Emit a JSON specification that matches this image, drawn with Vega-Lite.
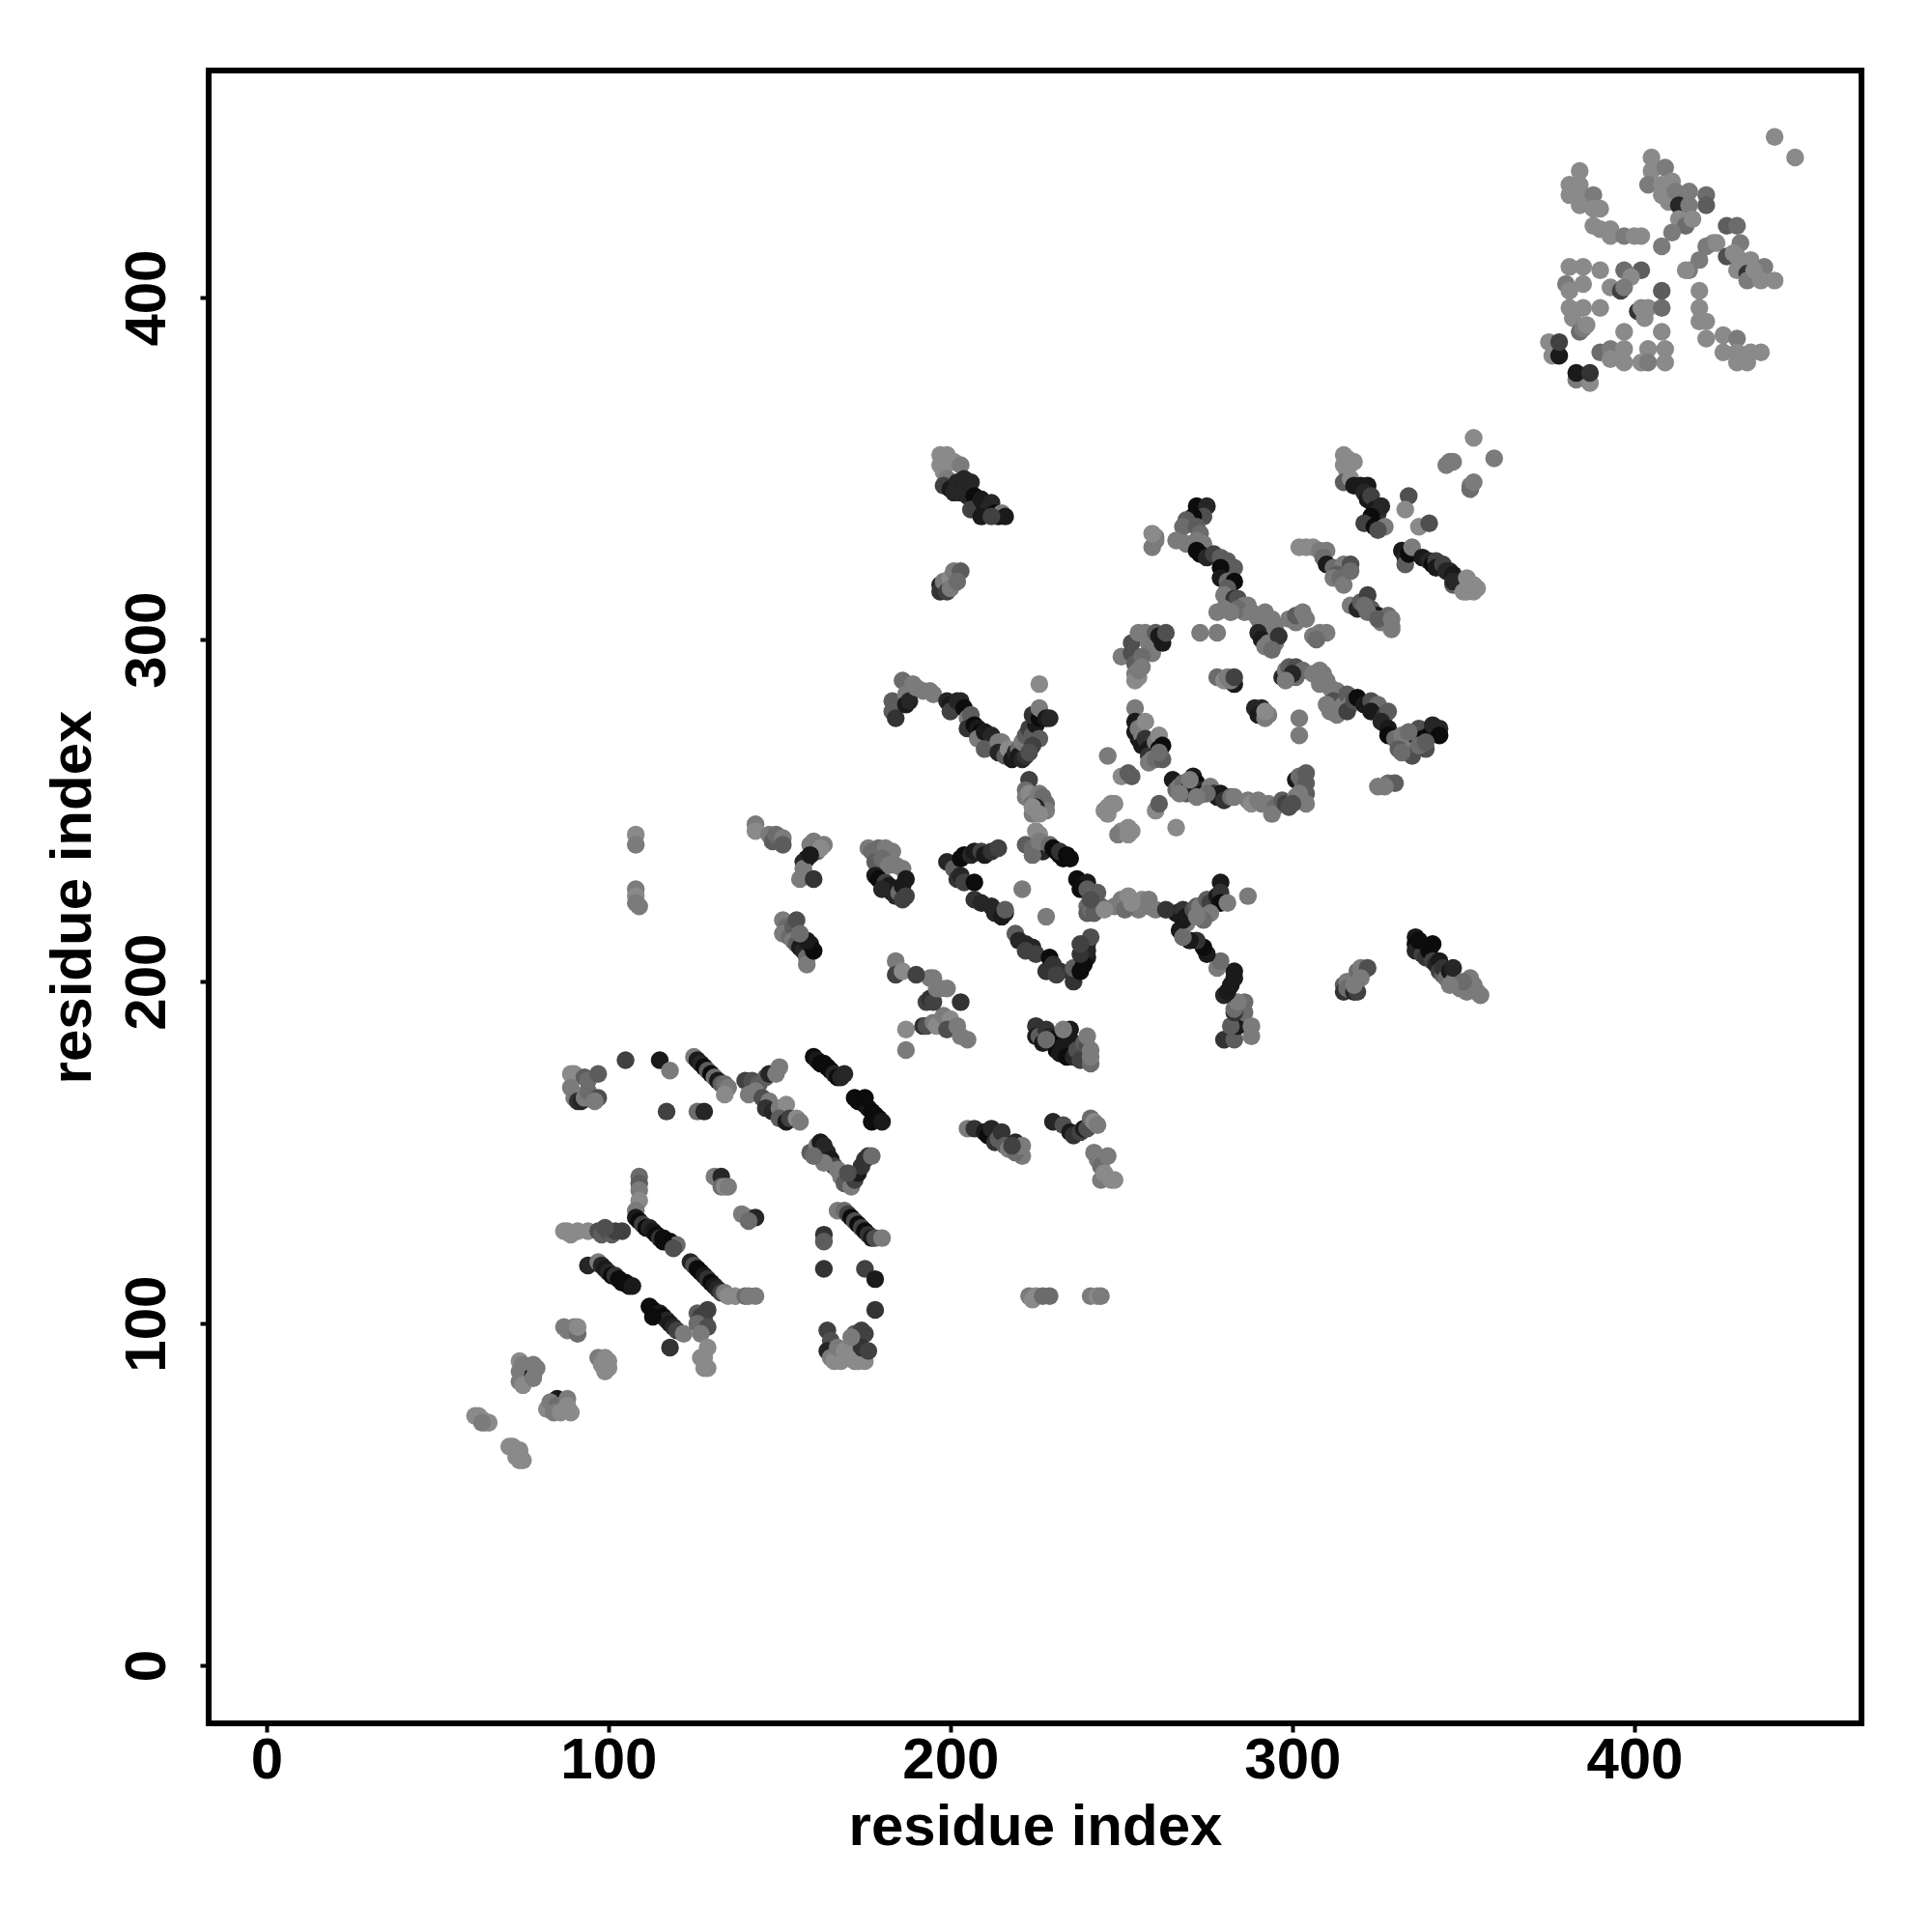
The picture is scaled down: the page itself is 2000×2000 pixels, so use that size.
{"$schema":"https://vega.github.io/schema/vega-lite/v6.json","width":1711,"height":1711,"autosize":"none","padding":{"left":216,"top":73,"right":73,"bottom":216},"background":"white","config":{"view":{"stroke":"#000000","strokeWidth":6,"fill":"white"},"font":"Liberation Sans"},
"data":{"values":[
{"x":61,"y":73,"s":0},{"x":62,"y":73,"s":0},{"x":63,"y":72,"s":0},{"x":64,"y":71,"s":0},{"x":65,"y":71,"s":0},{"x":63,"y":71,"s":1},
{"x":71,"y":64,"s":0},{"x":72,"y":64,"s":0},{"x":73,"y":63,"s":0},{"x":74,"y":63,"s":0},{"x":73,"y":61,"s":0},{"x":74,"y":60,"s":0},{"x":75,"y":60,"s":0},{"x":74,"y":62,"s":0},
{"x":74,"y":89,"s":0},{"x":75,"y":88,"s":1},{"x":74,"y":86,"s":1},{"x":75,"y":84,"s":1},{"x":74,"y":83,"s":1},{"x":78,"y":85,"s":8},{"x":78,"y":88,"s":1},{"x":79,"y":87,"s":1},{"x":75,"y":82,"s":0},{"x":78,"y":84,"s":1},
{"x":85,"y":78,"s":8},{"x":82,"y":75,"s":0},{"x":83,"y":77,"s":1},{"x":85,"y":76,"s":2},{"x":87,"y":75,"s":1},{"x":88,"y":78,"s":1},{"x":88,"y":76,"s":0},{"x":89,"y":74,"s":0},{"x":84,"y":74,"s":1},{"x":86,"y":74,"s":0},
{"x":87,"y":99,"s":1},{"x":88,"y":98,"s":1},{"x":90,"y":99,"s":1},{"x":91,"y":97,"s":2},{"x":91,"y":99,"s":0},
{"x":97,"y":90,"s":1},{"x":99,"y":90,"s":0},{"x":100,"y":87,"s":0},{"x":99,"y":86,"s":0},{"x":98,"y":88,"s":0},{"x":100,"y":89,"s":0},
{"x":87,"y":127,"s":0},{"x":88,"y":127,"s":0},{"x":89,"y":126,"s":0},{"x":91,"y":127,"s":0},{"x":94,"y":127,"s":0},{"x":97,"y":127,"s":4},{"x":98,"y":126,"s":3},{"x":100,"y":127,"s":5},{"x":101,"y":126,"s":3},{"x":102,"y":127,"s":5},{"x":104,"y":127,"s":5},{"x":99,"y":128,"s":4},
{"x":94,"y":117,"s":7},{"x":97,"y":118,"s":1},{"x":98,"y":117,"s":7},{"x":99,"y":116,"s":8},{"x":100,"y":115,"s":7},{"x":101,"y":114,"s":9},{"x":102,"y":114,"s":6},{"x":103,"y":113,"s":9},{"x":105,"y":112,"s":9},{"x":106,"y":111,"s":8},{"x":104,"y":112,"s":9},{"x":107,"y":111,"s":8},
{"x":109,"y":143,"s":2},{"x":109,"y":141,"s":3},{"x":109,"y":139,"s":1},{"x":109,"y":136,"s":0},{"x":108,"y":133,"s":1},{"x":108,"y":131,"s":8},{"x":109,"y":130,"s":9},{"x":110,"y":129,"s":5},{"x":111,"y":128,"s":9},{"x":112,"y":128,"s":7},{"x":113,"y":127,"s":8},{"x":114,"y":126,"s":9},{"x":115,"y":125,"s":6},{"x":116,"y":125,"s":9},{"x":117,"y":124,"s":8},{"x":118,"y":124,"s":9},{"x":119,"y":123,"s":9},{"x":120,"y":123,"s":2},{"x":116,"y":124,"s":9},{"x":119,"y":122,"s":4},
{"x":112,"y":105,"s":9},{"x":113,"y":104,"s":9},{"x":114,"y":103,"s":9},{"x":115,"y":103,"s":8},{"x":116,"y":102,"s":9},{"x":117,"y":101,"s":7},{"x":118,"y":100,"s":8},{"x":119,"y":99,"s":7},{"x":113,"y":102,"s":9},{"x":120,"y":98,"s":5},{"x":122,"y":97,"s":1},{"x":118,"y":93,"s":6},
{"x":124,"y":118,"s":7},{"x":125,"y":117,"s":4},{"x":126,"y":116,"s":9},{"x":127,"y":115,"s":9},{"x":128,"y":114,"s":8},{"x":129,"y":113,"s":6},{"x":130,"y":112,"s":9},{"x":131,"y":111,"s":8},{"x":132,"y":110,"s":7},{"x":133,"y":109,"s":5},{"x":134,"y":109,"s":1},{"x":135,"y":108,"s":0},{"x":137,"y":108,"s":0},{"x":140,"y":108,"s":2},{"x":141,"y":108,"s":1},{"x":143,"y":108,"s":1},
{"x":126,"y":103,"s":3},{"x":127,"y":102,"s":5},{"x":129,"y":104,"s":5},{"x":128,"y":101,"s":5},{"x":126,"y":100,"s":2},{"x":129,"y":99,"s":4},{"x":127,"y":97,"s":1},{"x":129,"y":93,"s":0},{"x":128,"y":90,"s":0},{"x":128,"y":87,"s":0},{"x":129,"y":87,"s":0},{"x":127,"y":90,"s":0},
{"x":131,"y":143,"s":1},{"x":133,"y":143,"s":7},{"x":133,"y":140,"s":2},{"x":134,"y":140,"s":0},{"x":135,"y":140,"s":1},{"x":139,"y":132,"s":1},{"x":141,"y":131,"s":1},{"x":143,"y":131,"s":7},{"x":141,"y":130,"s":2},
{"x":89,"y":173,"s":0},{"x":90,"y":173,"s":0},{"x":93,"y":172,"s":3},{"x":94,"y":171,"s":2},{"x":97,"y":173,"s":3},{"x":89,"y":169,"s":1},{"x":90,"y":166,"s":1},{"x":91,"y":165,"s":6},{"x":92,"y":165,"s":7},{"x":93,"y":166,"s":1},{"x":94,"y":168,"s":2},{"x":97,"y":166,"s":4},{"x":96,"y":165,"s":1},
{"x":105,"y":177,"s":5},{"x":115,"y":177,"s":8},{"x":118,"y":174,"s":1},{"x":117,"y":162,"s":5},{"x":126,"y":162,"s":2},{"x":128,"y":162,"s":7},
{"x":125,"y":178,"s":1},{"x":126,"y":177,"s":8},{"x":127,"y":176,"s":7},{"x":128,"y":175,"s":9},{"x":129,"y":174,"s":3},{"x":130,"y":173,"s":9},{"x":131,"y":172,"s":2},{"x":132,"y":171,"s":8},{"x":133,"y":170,"s":3},{"x":134,"y":170,"s":2},{"x":135,"y":169,"s":1},{"x":134,"y":167,"s":0},
{"x":140,"y":171,"s":5},{"x":142,"y":171,"s":4},{"x":144,"y":170,"s":3},{"x":146,"y":172,"s":3},{"x":147,"y":173,"s":7},{"x":149,"y":173,"s":1},{"x":150,"y":175,"s":1},{"x":141,"y":167,"s":1},{"x":143,"y":168,"s":1},{"x":145,"y":166,"s":4},{"x":147,"y":165,"s":1},{"x":146,"y":163,"s":6},{"x":148,"y":162,"s":7},{"x":150,"y":163,"s":1},{"x":152,"y":164,"s":0},{"x":150,"y":160,"s":3},{"x":152,"y":159,"s":8},{"x":153,"y":160,"s":5},{"x":155,"y":160,"s":0},{"x":156,"y":159,"s":1},
{"x":160,"y":178,"s":9},{"x":161,"y":177,"s":8},{"x":162,"y":176,"s":9},{"x":163,"y":176,"s":9},{"x":164,"y":175,"s":9},{"x":165,"y":174,"s":9},{"x":166,"y":173,"s":7},{"x":167,"y":172,"s":9},{"x":168,"y":172,"s":7},{"x":169,"y":173,"s":7},
{"x":172,"y":166,"s":9},{"x":173,"y":165,"s":9},{"x":174,"y":165,"s":9},{"x":175,"y":164,"s":9},{"x":176,"y":163,"s":8},{"x":177,"y":162,"s":9},{"x":178,"y":161,"s":9},{"x":179,"y":160,"s":9},{"x":175,"y":166,"s":9},{"x":177,"y":159,"s":9},{"x":180,"y":159,"s":8},
{"x":159,"y":150,"s":3},{"x":161,"y":152,"s":1},{"x":162,"y":153,"s":8},{"x":163,"y":152,"s":7},{"x":164,"y":150,"s":7},{"x":165,"y":148,"s":8},{"x":166,"y":146,"s":5},{"x":167,"y":145,"s":1},{"x":168,"y":143,"s":1},{"x":169,"y":141,"s":3},{"x":171,"y":140,"s":1},{"x":172,"y":142,"s":5},{"x":173,"y":144,"s":8},{"x":174,"y":146,"s":6},{"x":175,"y":148,"s":6},{"x":176,"y":149,"s":6},{"x":177,"y":149,"s":2},{"x":170,"y":144,"s":4},{"x":163,"y":147,"s":1},{"x":160,"y":149,"s":2},
{"x":167,"y":133,"s":1},{"x":169,"y":133,"s":2},{"x":170,"y":132,"s":5},{"x":171,"y":131,"s":9},{"x":172,"y":130,"s":4},{"x":173,"y":129,"s":9},{"x":174,"y":128,"s":5},{"x":175,"y":127,"s":9},{"x":176,"y":126,"s":6},{"x":177,"y":125,"s":8},{"x":178,"y":125,"s":4},{"x":180,"y":125,"s":1},
{"x":163,"y":126,"s":6},{"x":163,"y":124,"s":3},{"x":163,"y":116,"s":6},{"x":175,"y":116,"s":5},{"x":178,"y":113,"s":8},{"x":178,"y":104,"s":6},
{"x":164,"y":98,"s":5},{"x":165,"y":95,"s":4},{"x":164,"y":92,"s":7},{"x":165,"y":90,"s":1},{"x":166,"y":89,"s":0},{"x":168,"y":89,"s":0},{"x":167,"y":93,"s":1},{"x":169,"y":92,"s":0},{"x":171,"y":92,"s":0},{"x":172,"y":89,"s":0},{"x":173,"y":89,"s":0},{"x":175,"y":89,"s":0},{"x":172,"y":97,"s":3},{"x":174,"y":98,"s":5},{"x":175,"y":97,"s":5},{"x":174,"y":93,"s":6},{"x":176,"y":92,"s":5},{"x":170,"y":90,"s":0},{"x":171,"y":96,"s":1},
{"x":223,"y":108,"s":1},{"x":224,"y":107,"s":0},{"x":225,"y":108,"s":0},{"x":227,"y":108,"s":2},{"x":229,"y":108,"s":2},{"x":241,"y":108,"s":1},{"x":243,"y":108,"s":0},{"x":244,"y":108,"s":1},
{"x":205,"y":157,"s":1},{"x":207,"y":157,"s":6},{"x":210,"y":156,"s":8},{"x":211,"y":155,"s":9},{"x":212,"y":157,"s":7},{"x":213,"y":153,"s":6},{"x":214,"y":154,"s":3},{"x":215,"y":156,"s":6},{"x":216,"y":152,"s":3},{"x":217,"y":151,"s":1},{"x":219,"y":153,"s":7},{"x":220,"y":150,"s":1},{"x":221,"y":149,"s":1},{"x":219,"y":150,"s":2},{"x":221,"y":152,"s":1},{"x":218,"y":152,"s":5},
{"x":230,"y":159,"s":7},{"x":233,"y":158,"s":4},{"x":235,"y":156,"s":8},{"x":236,"y":155,"s":6},{"x":238,"y":156,"s":5},{"x":239,"y":157,"s":8},{"x":240,"y":157,"s":4},{"x":241,"y":160,"s":2},{"x":242,"y":159,"s":0},{"x":243,"y":158,"s":1},{"x":242,"y":150,"s":1},{"x":243,"y":148,"s":1},{"x":244,"y":146,"s":2},{"x":244,"y":142,"s":1},{"x":245,"y":144,"s":0},{"x":246,"y":149,"s":1},{"x":247,"y":142,"s":0},{"x":248,"y":142,"s":0},
{"x":187,"y":186,"s":0},{"x":187,"y":180,"s":1},{"x":192,"y":187,"s":6},{"x":193,"y":187,"s":4},{"x":195,"y":188,"s":1},{"x":196,"y":187,"s":0},{"x":198,"y":190,"s":1},{"x":200,"y":189,"s":0},{"x":199,"y":186,"s":4},{"x":202,"y":187,"s":1},{"x":203,"y":184,"s":1},{"x":205,"y":183,"s":1},{"x":193,"y":194,"s":5},{"x":194,"y":195,"s":6},{"x":195,"y":194,"s":5},{"x":196,"y":198,"s":1},{"x":197,"y":198,"s":1},{"x":199,"y":198,"s":1},{"x":195,"y":201,"s":1},{"x":194,"y":201,"s":1},{"x":184,"y":206,"s":1},{"x":184,"y":202,"s":5},{"x":186,"y":203,"s":0},{"x":190,"y":202,"s":5},{"x":203,"y":194,"s":6},
{"x":225,"y":187,"s":6},{"x":225,"y":184,"s":8},{"x":226,"y":184,"s":3},{"x":227,"y":182,"s":8},{"x":228,"y":186,"s":6},{"x":229,"y":184,"s":7},{"x":230,"y":183,"s":9},{"x":231,"y":180,"s":9},{"x":232,"y":179,"s":8},{"x":233,"y":181,"s":8},{"x":234,"y":178,"s":9},{"x":235,"y":183,"s":8},{"x":235,"y":186,"s":8},{"x":236,"y":178,"s":7},{"x":237,"y":180,"s":4},{"x":238,"y":177,"s":5},{"x":239,"y":182,"s":3},{"x":240,"y":181,"s":4},{"x":241,"y":176,"s":2},{"x":241,"y":178,"s":1},{"x":241,"y":180,"s":1},{"x":240,"y":184,"s":1},{"x":233,"y":186,"s":1},{"x":228,"y":183,"s":2},
{"x":280,"y":183,"s":6},{"x":283,"y":183,"s":3},{"x":284,"y":187,"s":8},{"x":282,"y":187,"s":3},{"x":286,"y":191,"s":2},{"x":286,"y":194,"s":2},{"x":288,"y":187,"s":1},{"x":288,"y":184,"s":1},{"x":283,"y":191,"s":6},{"x":283,"y":192,"s":2},{"x":284,"y":194,"s":1},{"x":280,"y":196,"s":7},{"x":281,"y":197,"s":8},{"x":282,"y":199,"s":8},{"x":283,"y":201,"s":8},{"x":283,"y":203,"s":8},{"x":278,"y":204,"s":1},{"x":279,"y":206,"s":2},{"x":275,"y":208,"s":8},{"x":274,"y":210,"s":9},{"x":272,"y":212,"s":6},{"x":270,"y":212,"s":8},{"x":267,"y":215,"s":8},{"x":269,"y":217,"s":1},{"x":268,"y":213,"s":2},
{"x":266,"y":220,"s":8},{"x":268,"y":221,"s":6},{"x":268,"y":218,"s":8},{"x":269,"y":219,"s":8},{"x":271,"y":221,"s":4},{"x":272,"y":222,"s":3},{"x":273,"y":222,"s":1},{"x":275,"y":224,"s":3},{"x":276,"y":223,"s":5},{"x":278,"y":225,"s":8},{"x":279,"y":229,"s":8},{"x":279,"y":226,"s":6},{"x":279,"y":223,"s":9},{"x":281,"y":223,"s":1},{"x":287,"y":225,"s":1},{"x":276,"y":220,"s":1},{"x":274,"y":218,"s":2},{"x":272,"y":219,"s":1},
{"x":248,"y":222,"s":1},{"x":250,"y":224,"s":1},{"x":252,"y":225,"s":0},{"x":255,"y":222,"s":0},{"x":256,"y":224,"s":0},{"x":258,"y":224,"s":1},{"x":255,"y":221,"s":1},{"x":258,"y":222,"s":1},{"x":260,"y":221,"s":1},{"x":263,"y":221,"s":6},{"x":251,"y":221,"s":2},{"x":253,"y":223,"s":0},
{"x":199,"y":235,"s":7},{"x":201,"y":233,"s":3},{"x":203,"y":236,"s":9},{"x":204,"y":237,"s":9},{"x":206,"y":237,"s":7},{"x":207,"y":238,"s":8},{"x":209,"y":238,"s":5},{"x":210,"y":237,"s":8},{"x":212,"y":238,"s":6},{"x":214,"y":239,"s":5},{"x":202,"y":230,"s":6},{"x":203,"y":231,"s":7},{"x":204,"y":229,"s":5},{"x":207,"y":229,"s":9},{"x":207,"y":224,"s":6},{"x":209,"y":223,"s":7},{"x":212,"y":222,"s":7},{"x":213,"y":220,"s":7},{"x":216,"y":220,"s":7},{"x":215,"y":219,"s":8},{"x":216,"y":221,"s":3},{"x":221,"y":227,"s":1},{"x":228,"y":219,"s":1},
{"x":219,"y":214,"s":3},{"x":220,"y":212,"s":7},{"x":222,"y":211,"s":7},{"x":224,"y":210,"s":7},{"x":222,"y":209,"s":5},{"x":225,"y":208,"s":5},{"x":229,"y":207,"s":9},{"x":230,"y":205,"s":6},{"x":228,"y":203,"s":6},{"x":232,"y":203,"s":6},{"x":231,"y":202,"s":5},{"x":236,"y":200,"s":6},{"x":236,"y":204,"s":3},{"x":238,"y":203,"s":9},{"x":240,"y":207,"s":8},{"x":240,"y":209,"s":7},{"x":240,"y":211,"s":7},{"x":241,"y":213,"s":4},{"x":239,"y":205,"s":9},{"x":238,"y":208,"s":6},{"x":238,"y":211,"s":5},
{"x":222,"y":240,"s":3},{"x":224,"y":239,"s":2},{"x":225,"y":244,"s":0},{"x":226,"y":243,"s":0},{"x":227,"y":238,"s":7},{"x":224,"y":237,"s":2},{"x":226,"y":241,"s":1},{"x":229,"y":240,"s":2},{"x":230,"y":239,"s":9},{"x":231,"y":238,"s":9},{"x":232,"y":237,"s":9},{"x":233,"y":236,"s":9},{"x":232,"y":238,"s":6},{"x":234,"y":237,"s":9},{"x":235,"y":236,"s":9},
{"x":237,"y":230,"s":9},{"x":238,"y":229,"s":9},{"x":239,"y":228,"s":9},{"x":240,"y":229,"s":8},{"x":238,"y":227,"s":9},{"x":240,"y":227,"s":3},{"x":241,"y":226,"s":3},{"x":242,"y":225,"s":2},{"x":243,"y":226,"s":3},{"x":240,"y":222,"s":2},{"x":240,"y":220,"s":3},{"x":241,"y":221,"s":2},{"x":242,"y":220,"s":3},{"x":244,"y":222,"s":3},{"x":245,"y":221,"s":0},{"x":241,"y":224,"s":4},
{"x":143,"y":246,"s":1},{"x":143,"y":244,"s":0},{"x":147,"y":243,"s":1},{"x":148,"y":241,"s":3},{"x":149,"y":243,"s":2},{"x":151,"y":242,"s":1},{"x":151,"y":240,"s":3},
{"x":159,"y":240,"s":1},{"x":158,"y":236,"s":8},{"x":160,"y":238,"s":6},{"x":160,"y":241,"s":1},{"x":163,"y":240,"s":1},{"x":161,"y":238,"s":2},{"x":162,"y":239,"s":0},{"x":157,"y":235,"s":7},{"x":157,"y":233,"s":1},{"x":159,"y":237,"s":8},{"x":156,"y":230,"s":1},{"x":160,"y":230,"s":6},
{"x":151,"y":218,"s":1},{"x":152,"y":216,"s":2},{"x":151,"y":214,"s":1},{"x":153,"y":213,"s":2},{"x":154,"y":216,"s":3},{"x":155,"y":218,"s":4},{"x":154,"y":212,"s":1},{"x":155,"y":211,"s":3},{"x":156,"y":210,"s":8},{"x":157,"y":209,"s":7},{"x":158,"y":207,"s":2},{"x":158,"y":205,"s":1},{"x":159,"y":211,"s":8},{"x":160,"y":209,"s":9},{"x":158,"y":212,"s":8},{"x":156,"y":214,"s":2},
{"x":176,"y":239,"s":1},{"x":177,"y":238,"s":2},{"x":179,"y":239,"s":2},{"x":181,"y":239,"s":1},{"x":183,"y":238,"s":1},{"x":178,"y":235,"s":3},{"x":180,"y":236,"s":2},{"x":182,"y":234,"s":1},{"x":184,"y":234,"s":1},{"x":186,"y":233,"s":1},{"x":178,"y":231,"s":8},{"x":179,"y":230,"s":9},{"x":181,"y":229,"s":5},{"x":182,"y":228,"s":8},{"x":183,"y":226,"s":8},{"x":184,"y":225,"s":7},{"x":185,"y":226,"s":2},{"x":186,"y":228,"s":8},{"x":187,"y":230,"s":8},{"x":186,"y":224,"s":5},{"x":180,"y":227,"s":7},{"x":187,"y":225,"s":5},
{"x":108,"y":243,"s":0},{"x":108,"y":240,"s":1},{"x":108,"y":227,"s":1},{"x":108,"y":225,"s":0},{"x":108,"y":223,"s":1},{"x":109,"y":222,"s":1},
{"x":183,"y":282,"s":3},{"x":183,"y":279,"s":3},{"x":184,"y":277,"s":6},{"x":186,"y":288,"s":2},{"x":187,"y":284,"s":1},{"x":187,"y":281,"s":8},{"x":188,"y":282,"s":7},{"x":189,"y":287,"s":1},{"x":190,"y":286,"s":1},{"x":192,"y":285,"s":1},{"x":194,"y":285,"s":1},{"x":195,"y":284,"s":1},{"x":199,"y":282,"s":7},{"x":200,"y":281,"s":8},{"x":200,"y":279,"s":5},{"x":202,"y":282,"s":7},{"x":203,"y":282,"s":7},{"x":204,"y":280,"s":9},{"x":205,"y":277,"s":1},{"x":206,"y":278,"s":3},{"x":205,"y":274,"s":6},{"x":207,"y":275,"s":9},{"x":208,"y":274,"s":8},{"x":209,"y":273,"s":9},{"x":208,"y":271,"s":1},{"x":210,"y":273,"s":8},{"x":212,"y":272,"s":7},{"x":210,"y":268,"s":3},{"x":214,"y":270,"s":1},{"x":215,"y":270,"s":1},{"x":214,"y":267,"s":7},{"x":216,"y":266,"s":3},{"x":217,"y":268,"s":0},{"x":218,"y":265,"s":8},{"x":219,"y":267,"s":7},{"x":220,"y":268,"s":2},{"x":220,"y":266,"s":8},{"x":221,"y":265,"s":7},{"x":222,"y":266,"s":6},{"x":221,"y":270,"s":1},{"x":222,"y":272,"s":3},{"x":223,"y":274,"s":5},{"x":224,"y":272,"s":3},{"x":225,"y":275,"s":8},{"x":226,"y":271,"s":3},{"x":224,"y":269,"s":5},{"x":223,"y":267,"s":4},{"x":224,"y":278,"s":6},{"x":226,"y":277,"s":9},{"x":226,"y":280,"s":1},{"x":228,"y":277,"s":8},{"x":229,"y":277,"s":7},{"x":226,"y":287,"s":0},
{"x":223,"y":259,"s":5},{"x":222,"y":256,"s":2},{"x":222,"y":254,"s":1},{"x":223,"y":255,"s":0},{"x":224,"y":252,"s":2},{"x":225,"y":253,"s":1},{"x":226,"y":255,"s":1},{"x":227,"y":254,"s":2},{"x":228,"y":252,"s":2},{"x":228,"y":250,"s":1},{"x":224,"y":249,"s":1},{"x":225,"y":251,"s":7},{"x":226,"y":249,"s":0},{"x":224,"y":251,"s":0},
{"x":246,"y":251,"s":0},{"x":246,"y":249,"s":0},{"x":247,"y":252,"s":0},{"x":245,"y":250,"s":0},{"x":248,"y":252,"s":0},{"x":250,"y":244,"s":0},{"x":249,"y":243,"s":1},{"x":252,"y":243,"s":0},{"x":252,"y":245,"s":0},{"x":253,"y":244,"s":0},{"x":246,"y":266,"s":1},{"x":250,"y":260,"s":0},{"x":253,"y":260,"s":3},{"x":252,"y":261,"s":3},{"x":260,"y":250,"s":0},{"x":261,"y":252,"s":3},{"x":266,"y":245,"s":0},
{"x":254,"y":280,"s":1},{"x":254,"y":276,"s":8},{"x":254,"y":273,"s":8},{"x":255,"y":271,"s":8},{"x":256,"y":272,"s":1},{"x":256,"y":269,"s":8},{"x":255,"y":274,"s":1},{"x":257,"y":276,"s":0},{"x":257,"y":271,"s":6},{"x":258,"y":268,"s":8},{"x":258,"y":266,"s":6},{"x":260,"y":270,"s":1},{"x":261,"y":272,"s":0},{"x":261,"y":268,"s":9},{"x":261,"y":266,"s":9},{"x":259,"y":265,"s":1},{"x":258,"y":264,"s":1},{"x":260,"y":265,"s":2},{"x":262,"y":269,"s":9},{"x":262,"y":265,"s":3},{"x":261,"y":267,"s":2},
{"x":265,"y":259,"s":8},{"x":266,"y":256,"s":2},{"x":267,"y":257,"s":1},{"x":268,"y":258,"s":2},{"x":269,"y":255,"s":3},{"x":270,"y":257,"s":8},{"x":271,"y":260,"s":8},{"x":272,"y":258,"s":9},{"x":273,"y":256,"s":7},{"x":274,"y":255,"s":9},{"x":276,"y":257,"s":1},{"x":277,"y":255,"s":6},{"x":278,"y":254,"s":8},{"x":279,"y":255,"s":8},{"x":280,"y":253,"s":6},{"x":282,"y":254,"s":2},{"x":283,"y":254,"s":1},{"x":270,"y":259,"s":1},{"x":275,"y":255,"s":2},{"x":267,"y":255,"s":1},{"x":272,"y":254,"s":1},
{"x":287,"y":253,"s":1},{"x":288,"y":252,"s":0},{"x":290,"y":253,"s":1},{"x":291,"y":252,"s":1},{"x":293,"y":252,"s":1},{"x":295,"y":251,"s":2},{"x":294,"y":249,"s":1},{"x":297,"y":253,"s":3},{"x":298,"y":252,"s":5},{"x":299,"y":251,"s":4},{"x":301,"y":254,"s":1},{"x":301,"y":259,"s":8},{"x":302,"y":260,"s":2},{"x":303,"y":258,"s":2},{"x":304,"y":261,"s":3},{"x":304,"y":258,"s":3},{"x":304,"y":255,"s":3},{"x":304,"y":252,"s":1},{"x":302,"y":255,"s":1},{"x":300,"y":252,"s":4},
{"x":250,"y":295,"s":1},{"x":253,"y":299,"s":4},{"x":253,"y":296,"s":4},{"x":254,"y":293,"s":3},{"x":254,"y":290,"s":1},{"x":255,"y":302,"s":1},{"x":257,"y":302,"s":1},{"x":258,"y":299,"s":1},{"x":259,"y":296,"s":1},{"x":260,"y":302,"s":3},{"x":261,"y":301,"s":8},{"x":262,"y":299,"s":8},{"x":263,"y":302,"s":4},{"x":256,"y":295,"s":2},{"x":254,"y":288,"s":0},{"x":255,"y":289,"s":0},{"x":255,"y":291,"s":1},{"x":256,"y":292,"s":1},
{"x":273,"y":302,"s":1},{"x":278,"y":302,"s":1},{"x":278,"y":289,"s":2},{"x":280,"y":288,"s":0},{"x":281,"y":289,"s":1},{"x":283,"y":287,"s":8},{"x":282,"y":288,"s":1},{"x":283,"y":289,"s":5},{"x":289,"y":280,"s":7},{"x":291,"y":280,"s":7},{"x":290,"y":278,"s":8},{"x":292,"y":277,"s":1},{"x":293,"y":278,"s":1},{"x":292,"y":279,"s":0},{"x":302,"y":277,"s":1},{"x":302,"y":272,"s":1},
{"x":272,"y":339,"s":9},{"x":275,"y":339,"s":7},{"x":274,"y":336,"s":4},{"x":271,"y":336,"s":9},{"x":269,"y":335,"s":3},{"x":268,"y":333,"s":2},{"x":272,"y":333,"s":3},{"x":273,"y":331,"s":2},{"x":266,"y":329,"s":1},{"x":269,"y":328,"s":1},{"x":272,"y":329,"s":1},{"x":274,"y":328,"s":1},{"x":272,"y":326,"s":9},{"x":273,"y":325,"s":9},{"x":275,"y":324,"s":7},{"x":277,"y":325,"s":5},{"x":279,"y":324,"s":3},{"x":281,"y":323,"s":3},{"x":283,"y":321,"s":3},{"x":279,"y":321,"s":9},{"x":279,"y":318,"s":8},{"x":281,"y":317,"s":2},{"x":283,"y":317,"s":9},{"x":281,"y":315,"s":3},{"x":280,"y":313,"s":1},{"x":283,"y":312,"s":6},{"x":284,"y":312,"s":4},{"x":286,"y":310,"s":1},{"x":286,"y":308,"s":1},{"x":287,"y":310,"s":1},{"x":284,"y":309,"s":2},{"x":282,"y":308,"s":1},{"x":278,"y":308,"s":1},{"x":280,"y":309,"s":1},{"x":288,"y":308,"s":1},{"x":290,"y":306,"s":1},{"x":292,"y":308,"s":1},{"x":294,"y":306,"s":1},{"x":293,"y":305,"s":1},{"x":295,"y":304,"s":1},{"x":293,"y":303,"s":1},{"x":290,"y":302,"s":7},{"x":291,"y":300,"s":8},{"x":293,"y":299,"s":1},{"x":295,"y":299,"s":1},{"x":296,"y":301,"s":6},{"x":292,"y":298,"s":1},{"x":294,"y":297,"s":2},{"x":260,"y":329,"s":1},{"x":259,"y":327,"s":1},{"x":260,"y":330,"s":1},{"x":259,"y":331,"s":0},
{"x":302,"y":327,"s":0},{"x":304,"y":327,"s":0},{"x":306,"y":327,"s":0},{"x":308,"y":326,"s":1},{"x":310,"y":326,"s":1},{"x":309,"y":324,"s":2},{"x":310,"y":322,"s":8},{"x":312,"y":321,"s":2},{"x":314,"y":320,"s":1},{"x":315,"y":322,"s":1},{"x":317,"y":322,"s":4},{"x":313,"y":319,"s":3},{"x":312,"y":318,"s":1},{"x":314,"y":318,"s":2},{"x":315,"y":316,"s":1},{"x":317,"y":320,"s":2},
{"x":299,"y":306,"s":1},{"x":301,"y":305,"s":1},{"x":301,"y":307,"s":3},{"x":303,"y":308,"s":1},{"x":304,"y":306,"s":1},{"x":306,"y":301,"s":1},{"x":308,"y":302,"s":1},{"x":310,"y":302,"s":1},{"x":307,"y":300,"s":2},
{"x":297,"y":289,"s":7},{"x":298,"y":291,"s":1},{"x":299,"y":292,"s":3},{"x":301,"y":292,"s":4},{"x":303,"y":291,"s":2},{"x":301,"y":289,"s":2},{"x":300,"y":290,"s":7},{"x":298,"y":288,"s":1},{"x":306,"y":290,"s":1},{"x":308,"y":291,"s":1},{"x":309,"y":290,"s":1},{"x":310,"y":288,"s":1},{"x":308,"y":287,"s":1},{"x":311,"y":286,"s":1},{"x":312,"y":284,"s":1},{"x":313,"y":285,"s":1},{"x":312,"y":282,"s":4},{"x":311,"y":279,"s":1},{"x":310,"y":281,"s":1},{"x":313,"y":278,"s":1},{"x":315,"y":281,"s":1},{"x":316,"y":284,"s":3},{"x":317,"y":281,"s":1},{"x":316,"y":279,"s":5},{"x":318,"y":282,"s":4},{"x":319,"y":283,"s":9},{"x":321,"y":281,"s":8},{"x":323,"y":282,"s":4},{"x":325,"y":281,"s":2},{"x":323,"y":279,"s":8},{"x":327,"y":278,"s":6},{"x":328,"y":279,"s":3},{"x":326,"y":276,"s":7},{"x":328,"y":274,"s":8},{"x":328,"y":272,"s":9},{"x":330,"y":271,"s":2},{"x":332,"y":272,"s":1},{"x":333,"y":270,"s":1},{"x":331,"y":268,"s":3},{"x":335,"y":268,"s":1},{"x":336,"y":272,"s":8},{"x":337,"y":274,"s":4},{"x":338,"y":271,"s":9},{"x":339,"y":268,"s":4},{"x":340,"y":272,"s":9},{"x":341,"y":275,"s":7},{"x":343,"y":274,"s":7},{"x":343,"y":272,"s":9},{"x":334,"y":273,"s":2},{"x":335,"y":266,"s":4},{"x":332,"y":267,"s":2},{"x":337,"y":269,"s":2},{"x":339,"y":270,"s":3},
{"x":325,"y":257,"s":1},{"x":328,"y":258,"s":2},{"x":330,"y":258,"s":3},{"x":327,"y":257,"s":1},
{"x":317,"y":310,"s":1},{"x":319,"y":309,"s":7},{"x":320,"y":311,"s":3},{"x":322,"y":313,"s":5},{"x":323,"y":309,"s":3},{"x":325,"y":307,"s":8},{"x":327,"y":306,"s":1},{"x":328,"y":305,"s":8},{"x":329,"y":304,"s":1},{"x":328,"y":307,"s":2},{"x":326,"y":305,"s":1},{"x":322,"y":308,"s":2},{"x":321,"y":310,"s":2},{"x":325,"y":306,"s":3},{"x":329,"y":306,"s":1},{"x":329,"y":303,"s":1},
{"x":315,"y":354,"s":0},{"x":316,"y":353,"s":0},{"x":318,"y":352,"s":0},{"x":315,"y":351,"s":0},{"x":316,"y":349,"s":0},{"x":315,"y":346,"s":3},{"x":317,"y":347,"s":0},{"x":318,"y":345,"s":8},{"x":320,"y":345,"s":8},{"x":322,"y":345,"s":8},{"x":321,"y":343,"s":7},{"x":322,"y":341,"s":8},{"x":323,"y":342,"s":5},{"x":324,"y":338,"s":8},{"x":325,"y":337,"s":6},{"x":326,"y":339,"s":7},{"x":323,"y":336,"s":9},{"x":321,"y":334,"s":5},{"x":324,"y":333,"s":9},{"x":326,"y":333,"s":9},{"x":327,"y":333,"s":1},{"x":325,"y":332,"s":4},
{"x":334,"y":342,"s":4},{"x":333,"y":338,"s":0},{"x":337,"y":333,"s":0},{"x":340,"y":334,"s":4},
{"x":332,"y":326,"s":8},{"x":333,"y":324,"s":7},{"x":333,"y":322,"s":3},{"x":334,"y":325,"s":9},{"x":335,"y":327,"s":1},{"x":338,"y":324,"s":8},{"x":340,"y":323,"s":7},{"x":341,"y":322,"s":9},{"x":342,"y":323,"s":5},{"x":342,"y":321,"s":8},{"x":344,"y":322,"s":5},{"x":345,"y":320,"s":7},{"x":346,"y":320,"s":7},{"x":347,"y":319,"s":8},{"x":347,"y":316,"s":3},{"x":349,"y":316,"s":0},{"x":347,"y":317,"s":7},{"x":350,"y":314,"s":0},{"x":351,"y":314,"s":0},{"x":353,"y":314,"s":0},{"x":353,"y":316,"s":0},{"x":351,"y":318,"s":0},{"x":354,"y":315,"s":0},
{"x":345,"y":351,"s":1},{"x":346,"y":352,"s":1},{"x":347,"y":352,"s":1},{"x":352,"y":345,"s":1},{"x":352,"y":344,"s":2},{"x":353,"y":346,"s":1},{"x":353,"y":359,"s":0},{"x":359,"y":353,"s":1},
{"x":197,"y":354,"s":0},{"x":199,"y":354,"s":0},{"x":198,"y":352,"s":0},{"x":201,"y":352,"s":0},{"x":197,"y":351,"s":0},{"x":198,"y":349,"s":0},{"x":203,"y":351,"s":1},{"x":199,"y":347,"s":1},{"x":198,"y":345,"s":5},{"x":200,"y":344,"s":8},{"x":202,"y":346,"s":7},{"x":203,"y":343,"s":8},{"x":204,"y":345,"s":8},{"x":204,"y":347,"s":7},{"x":206,"y":346,"s":7},{"x":205,"y":342,"s":7},{"x":207,"y":342,"s":9},{"x":208,"y":340,"s":9},{"x":206,"y":338,"s":5},{"x":209,"y":341,"s":8},{"x":210,"y":339,"s":8},{"x":211,"y":338,"s":7},{"x":212,"y":340,"s":7},{"x":213,"y":337,"s":9},{"x":214,"y":336,"s":9},{"x":215,"y":337,"s":1},{"x":216,"y":336,"s":8},{"x":209,"y":336,"s":8},{"x":212,"y":336,"s":5},{"x":201,"y":343,"s":7},
{"x":197,"y":316,"s":7},{"x":197,"y":314,"s":6},{"x":198,"y":317,"s":1},{"x":200,"y":318,"s":0},{"x":199,"y":314,"s":5},{"x":201,"y":320,"s":1},{"x":203,"y":320,"s":3},{"x":200,"y":315,"s":1},{"x":202,"y":317,"s":2},
{"x":315,"y":199,"s":3},{"x":315,"y":197,"s":6},{"x":316,"y":200,"s":1},{"x":316,"y":198,"s":2},{"x":318,"y":197,"s":7},{"x":319,"y":197,"s":5},{"x":319,"y":203,"s":2},{"x":320,"y":204,"s":1},{"x":322,"y":204,"s":4},{"x":320,"y":201,"s":1},{"x":318,"y":199,"s":1},
{"x":336,"y":213,"s":8},{"x":336,"y":211,"s":9},{"x":336,"y":209,"s":7},{"x":338,"y":210,"s":8},{"x":338,"y":208,"s":5},{"x":339,"y":207,"s":6},{"x":340,"y":209,"s":9},{"x":341,"y":211,"s":9},{"x":341,"y":206,"s":5},{"x":342,"y":205,"s":7},{"x":343,"y":206,"s":8},{"x":343,"y":203,"s":5},{"x":344,"y":202,"s":3},{"x":344,"y":204,"s":6},{"x":345,"y":201,"s":2},{"x":346,"y":203,"s":8},{"x":347,"y":200,"s":2},{"x":347,"y":204,"s":7},{"x":348,"y":199,"s":2},{"x":349,"y":198,"s":1},{"x":350,"y":198,"s":1},{"x":351,"y":197,"s":1},{"x":352,"y":198,"s":1},{"x":352,"y":201,"s":1},{"x":353,"y":199,"s":1},{"x":354,"y":197,"s":1},{"x":355,"y":196,"s":1},{"x":350,"y":200,"s":2},{"x":346,"y":199,"s":1},{"x":337,"y":212,"s":9},
{"x":441,"y":447,"s":0},{"x":447,"y":441,"s":0},
{"x":384,"y":437,"s":0},{"x":381,"y":433,"s":0},{"x":384,"y":433,"s":0},{"x":381,"y":430,"s":0},{"x":384,"y":430,"s":0},{"x":388,"y":430,"s":1},{"x":384,"y":427,"s":0},{"x":388,"y":426,"s":0},{"x":390,"y":426,"s":0},{"x":388,"y":421,"s":0},{"x":390,"y":420,"s":0},{"x":393,"y":420,"s":0},{"x":393,"y":418,"s":0},{"x":397,"y":418,"s":1},{"x":400,"y":418,"s":0},{"x":402,"y":418,"s":0},
{"x":405,"y":441,"s":0},{"x":405,"y":437,"s":0},{"x":404,"y":433,"s":1},{"x":409,"y":438,"s":1},{"x":408,"y":433,"s":0},{"x":411,"y":434,"s":0},{"x":408,"y":430,"s":0},{"x":410,"y":428,"s":0},{"x":412,"y":431,"s":1},{"x":413,"y":427,"s":7},{"x":416,"y":431,"s":1},{"x":421,"y":430,"s":2},{"x":421,"y":427,"s":3},{"x":416,"y":427,"s":1},{"x":413,"y":423,"s":0},{"x":415,"y":421,"s":2},{"x":417,"y":423,"s":0},{"x":411,"y":419,"s":1},{"x":408,"y":415,"s":1},
{"x":427,"y":421,"s":3},{"x":430,"y":421,"s":2},{"x":423,"y":416,"s":0},{"x":421,"y":415,"s":1},{"x":424,"y":416,"s":0},{"x":431,"y":416,"s":1},{"x":427,"y":412,"s":4},{"x":429,"y":413,"s":0},{"x":430,"y":412,"s":0},{"x":434,"y":411,"s":0},{"x":438,"y":409,"s":1},{"x":430,"y":408,"s":0},{"x":433,"y":407,"s":6},{"x":433,"y":405,"s":1},{"x":435,"y":408,"s":0},{"x":437,"y":405,"s":0},{"x":441,"y":405,"s":0},{"x":419,"y":411,"s":1},{"x":416,"y":408,"s":1},{"x":415,"y":408,"s":0},
{"x":419,"y":402,"s":0},{"x":419,"y":397,"s":0},{"x":419,"y":393,"s":0},{"x":421,"y":393,"s":0},{"x":421,"y":388,"s":0},{"x":426,"y":389,"s":0},{"x":430,"y":388,"s":1},{"x":426,"y":384,"s":0},{"x":430,"y":384,"s":0},{"x":434,"y":384,"s":0},{"x":437,"y":384,"s":0},{"x":430,"y":381,"s":0},{"x":433,"y":381,"s":0},
{"x":381,"y":409,"s":0},{"x":385,"y":409,"s":0},{"x":390,"y":408,"s":0},{"x":380,"y":404,"s":1},{"x":385,"y":404,"s":0},{"x":381,"y":402,"s":0},{"x":381,"y":397,"s":0},{"x":385,"y":397,"s":0},{"x":390,"y":397,"s":0},{"x":382,"y":394,"s":0},{"x":384,"y":390,"s":2},{"x":385,"y":391,"s":1},{"x":386,"y":392,"s":0},
{"x":397,"y":408,"s":2},{"x":402,"y":408,"s":3},{"x":399,"y":406,"s":0},{"x":393,"y":403,"s":0},{"x":396,"y":402,"s":5},{"x":397,"y":403,"s":1},{"x":408,"y":402,"s":3},{"x":401,"y":396,"s":6},{"x":402,"y":397,"s":0},{"x":403,"y":394,"s":0},{"x":404,"y":397,"s":0},{"x":408,"y":397,"s":2},
{"x":397,"y":390,"s":0},{"x":408,"y":390,"s":0},{"x":390,"y":384,"s":2},{"x":393,"y":385,"s":1},{"x":393,"y":382,"s":0},{"x":397,"y":385,"s":0},{"x":397,"y":381,"s":0},{"x":404,"y":385,"s":0},{"x":409,"y":385,"s":0},{"x":402,"y":381,"s":0},{"x":404,"y":381,"s":1},{"x":409,"y":381,"s":0},
{"x":375,"y":387,"s":0},{"x":376,"y":383,"s":0},{"x":378,"y":383,"s":8},{"x":378,"y":387,"s":5},{"x":383,"y":376,"s":1},{"x":387,"y":375,"s":0},{"x":383,"y":378,"s":8},{"x":387,"y":378,"s":6}
]},
"mark":{"type":"circle","size":340,"opacity":1},
"encoding":{
"x":{"field":"x","type":"quantitative","scale":{"domain":[-16.9,466.4],"nice":false,"zero":false},"axis":{"values":[0,100,200,300,400],"grid":false,"domain":false,"tickColor":"#000000","tickWidth":4,"tickSize":9,"labelFont":"Liberation Sans","labelFontWeight":"bold","labelFontSize":60,"labelColor":"#000000","labelPadding":0,"title":"residue index","titleFont":"Liberation Sans","titleFontWeight":"bold","titleFontSize":60,"titleColor":"#000000","titlePadding":10}},
"y":{"field":"y","type":"quantitative","scale":{"domain":[-16.9,466.4],"nice":false,"zero":false},"axis":{"values":[0,100,200,300,400],"grid":false,"domain":false,"tickColor":"#000000","tickWidth":4,"tickSize":9,"labelFont":"Liberation Sans","labelFontWeight":"bold","labelFontSize":60,"labelColor":"#000000","labelAngle":-90,"labelAlign":"center","labelBaseline":"bottom","labelPadding":24,"title":"residue index","titleFont":"Liberation Sans","titleFontWeight":"bold","titleFontSize":60,"titleColor":"#000000","titlePadding":16}},
"color":{"field":"s","type":"quantitative","scale":{"domain":[0,9],"range":["#8a8a8a","#0c0c0c"]},"legend":null}
}}
